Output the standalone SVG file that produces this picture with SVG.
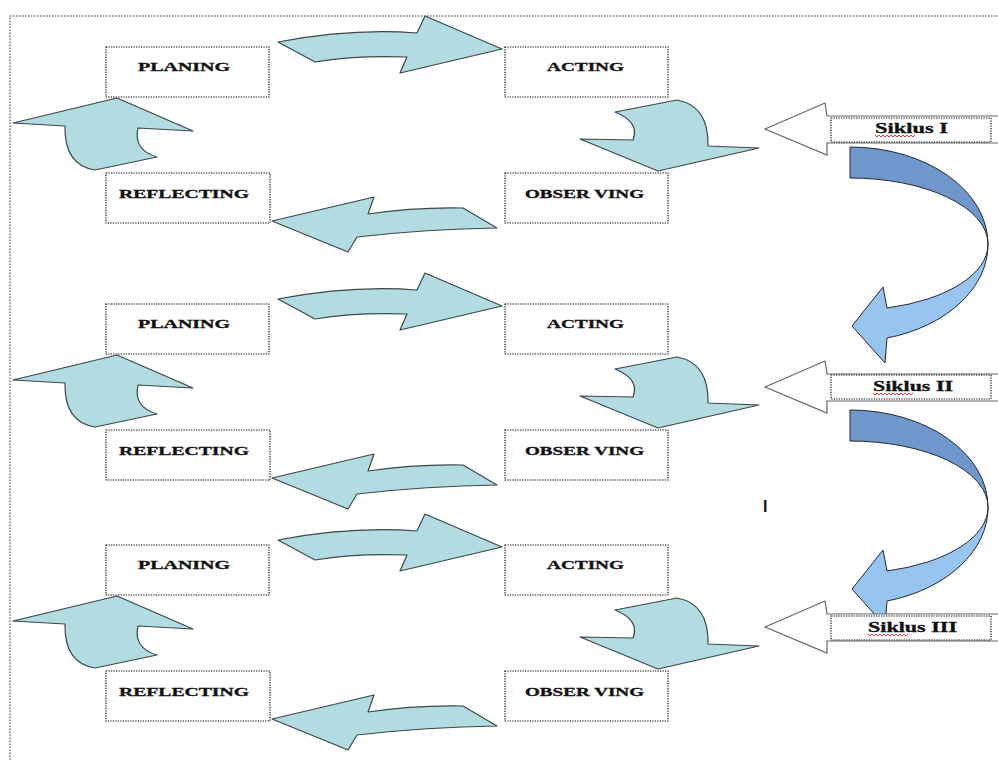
<svg xmlns="http://www.w3.org/2000/svg" xmlns:xlink="http://www.w3.org/1999/xlink" width="998" height="760" viewBox="0 0 998 760">
<style>
.box{fill:#fff;stroke:#111;stroke-width:1.2;stroke-dasharray:1.3 1.2}
.lbl{font-family:"Liberation Serif",serif;font-weight:bold;font-size:13.5px;fill:#111;stroke:#111;stroke-width:0.35}
.sk{font-family:"Liberation Serif",serif;font-weight:bold;font-size:14.5px;fill:#111;stroke:#111;stroke-width:0.3}
.teal{fill:#b2dce2;stroke:#3a4848;stroke-width:1.2;stroke-linejoin:round}
.white{fill:#fff;stroke:#666;stroke-width:1.2}
.dark{fill:#6f97cb;stroke:#1e2a3a;stroke-width:1}
.light{fill:#98c4f0;stroke:#1e2a3a;stroke-width:1}
.border{fill:none;stroke:#777;stroke-width:1.5;stroke-dasharray:1.5 1.5}
.wave{fill:none;stroke:#d22;stroke-width:0.9}
</style>
<defs>
<path id="arrPA" d="M278,42 L315,62 Q357,55 407,57 L400,73 L502,49 L425,16 L417,33 Q352,28 278,42 Z"/>
<path id="arrAO" d="M615,112 L677,100 Q709,106 708,146 L759,148 L658,171 L580,139 L633,140 Q640,122 615,112 Z"/>
<path id="arrOR" d="M272,221 L374,197 L368,214 Q415,207 463,208 L497,228 Q427,229 357,237 L348,252 Z"/>
<path id="arrRP" d="M13,123 L117,98 L193,131 L138,128 Q133,150 157,157 L95,170 Q64,165 65,126 Z"/>
<g id="blueArrow">
<path class="dark" d="M850,147 A138 97 0 0 1 988,244 A138 66 0 0 0 850,178 Z"/>
<path class="light" d="M988,244 A138 97 0 0 1 887,338 L885,363 L852,326 L883,287 L887,308 A138 66 0 0 0 988,244 Z"/>
</g>
<path id="wArrow" d="M765,129 L825,103 L827,116 L1000,116 L1000,143 L827,143 L827,155 Z"/>
<polyline id="wavy" points="0,0 2,2 4,0 6,2 8,0 10,2 12,0 14,2 16,0 18,2 20,0 22,2 24,0 26,2 28,0 30,2 32,0 34,2 36,0 38,2 40,0"/>
</defs>

<rect width="998" height="760" fill="#fff"/>
<path class="border" d="M10,760 L10,16 L998,16"/>

<!-- Cycle 1 -->
<g id="planing1"><rect class="box" x="106" y="47" width="163" height="50"/><text class="lbl" x="138" y="71" textLength="92" lengthAdjust="spacingAndGlyphs">PLANING</text></g>
<g id="acting1"><rect class="box" x="505" y="47" width="163" height="50"/><text class="lbl" x="547" y="70.5" textLength="77" lengthAdjust="spacingAndGlyphs">ACTING</text></g>
<g id="reflecting1"><rect class="box" x="106" y="173" width="164" height="50"/><text class="lbl" x="119" y="198" textLength="130" lengthAdjust="spacingAndGlyphs">REFLECTING</text></g>
<g id="observing1"><rect class="box" x="505" y="173" width="163" height="50"/><text class="lbl" x="525" y="198" textLength="119" lengthAdjust="spacingAndGlyphs">OBSER VING</text></g>

<!-- Cycle 2 -->
<g id="planing2"><rect class="box" x="106" y="304" width="163" height="50"/><text class="lbl" x="138" y="328" textLength="92" lengthAdjust="spacingAndGlyphs">PLANING</text></g>
<g id="acting2"><rect class="box" x="505" y="304" width="163" height="50"/><text class="lbl" x="547" y="327.5" textLength="77" lengthAdjust="spacingAndGlyphs">ACTING</text></g>
<g id="reflecting2"><rect class="box" x="106" y="430" width="164" height="50"/><text class="lbl" x="119" y="455" textLength="130" lengthAdjust="spacingAndGlyphs">REFLECTING</text></g>
<g id="observing2"><rect class="box" x="505" y="430" width="163" height="50"/><text class="lbl" x="525" y="455" textLength="119" lengthAdjust="spacingAndGlyphs">OBSER VING</text></g>

<!-- Cycle 3 -->
<g id="planing3"><rect class="box" x="106" y="545" width="163" height="50"/><text class="lbl" x="138" y="569" textLength="92" lengthAdjust="spacingAndGlyphs">PLANING</text></g>
<g id="acting3"><rect class="box" x="505" y="545" width="163" height="50"/><text class="lbl" x="547" y="568.5" textLength="77" lengthAdjust="spacingAndGlyphs">ACTING</text></g>
<g id="reflecting3"><rect class="box" x="106" y="671" width="164" height="50"/><text class="lbl" x="119" y="696" textLength="130" lengthAdjust="spacingAndGlyphs">REFLECTING</text></g>
<g id="observing3"><rect class="box" x="505" y="671" width="163" height="50"/><text class="lbl" x="525" y="696" textLength="119" lengthAdjust="spacingAndGlyphs">OBSER VING</text></g>

<g id="connectors">
<use xlink:href="#arrPA" class="teal"/>
<use xlink:href="#arrAO" class="teal"/>
<use xlink:href="#arrOR" class="teal"/>
<use xlink:href="#arrRP" class="teal"/>
<use xlink:href="#arrPA" class="teal" transform="translate(0,257)"/>
<use xlink:href="#arrAO" class="teal" transform="translate(0,257)"/>
<use xlink:href="#arrOR" class="teal" transform="translate(0,257)"/>
<use xlink:href="#arrRP" class="teal" transform="translate(0,257)"/>
<use xlink:href="#arrPA" class="teal" transform="translate(0,498)"/>
<use xlink:href="#arrAO" class="teal" transform="translate(0,498)"/>
<use xlink:href="#arrOR" class="teal" transform="translate(0,498)"/>
<use xlink:href="#arrRP" class="teal" transform="translate(0,498)"/>
<use xlink:href="#blueArrow"/>
<use xlink:href="#blueArrow" transform="translate(0,263)"/>
</g>

<g id="siklus1">
<use xlink:href="#wArrow" class="white"/>
<rect class="box" x="831" y="118" width="160" height="24"/>
<text class="sk" x="875" y="133" textLength="73" lengthAdjust="spacingAndGlyphs">Siklus I</text>
<use xlink:href="#wavy" class="wave" transform="translate(875,135)"/>
</g>
<g id="siklus2">
<use xlink:href="#wArrow" class="white" transform="translate(0,258)"/>
<rect class="box" x="831" y="375" width="160" height="24"/>
<text class="sk" x="873" y="391" textLength="80" lengthAdjust="spacingAndGlyphs">Siklus II</text>
<use xlink:href="#wavy" class="wave" transform="translate(873,393)"/>
</g>
<g id="siklus3">
<use xlink:href="#wArrow" class="white" transform="translate(0,498)"/>
<rect class="box" x="831" y="616" width="160" height="24"/>
<text class="sk" x="868" y="632" textLength="89" lengthAdjust="spacingAndGlyphs">Siklus III</text>
<use xlink:href="#wavy" class="wave" transform="translate(868,634)"/>
</g>

<text x="763" y="512" font-family="Liberation Sans, sans-serif" font-weight="bold" font-size="16" fill="#111">I</text>
</svg>
